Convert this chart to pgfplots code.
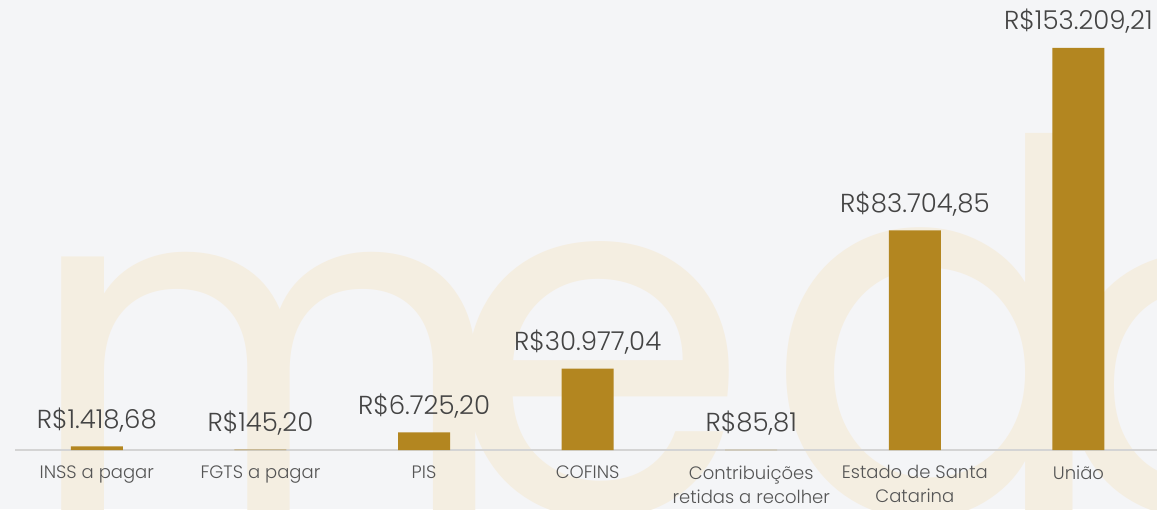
\documentclass[border=0pt]{standalone}
\usepackage{pgfplots}
\pgfplotsset{compat=1.18}
\usepackage{fontspec}
\setmainfont{Poppins}[UprightFont=* Light]
\newfontfamily\wmfont{Poppins}
\definecolor{bg}{HTML}{F4F5F7}
\definecolor{wm}{HTML}{F4EEE1}
\definecolor{barc}{HTML}{B38620}
\definecolor{linegray}{HTML}{D4D4D4}
\definecolor{valtxt}{HTML}{444444}
\definecolor{ticktxt}{HTML}{555555}
\begin{document}
\begin{tikzpicture}
\useasboundingbox (0,0) rectangle (1157pt,509pt);
\fill[bg] (0,0) rectangle (1157pt,509pt);
\begin{scope}
\clip (0,0) rectangle (1157pt,509pt);
\tikzset{wml/.style={anchor=base west, font=\wmfont\fontsize{470}{470}\selectfont, text=wm, inner sep=0pt}}
\node[wml] at (25pt,-5pt) {m};
\node[wml, font=\wmfont\fontsize{490}{490}\selectfont] at (446pt,-5pt) {e};
\node[wml, font=\wmfont\fontsize{515}{515}\selectfont] at (764pt,-5pt) {d};
\node[wml] at (1050pt,-5pt) {o};
\end{scope}
\begin{axis}[
  at={(15pt,59pt)}, anchor=south west,
  scale only axis, width=1142pt, height=450pt,
  xmin=-0.5, xmax=6.48, ymin=0, ymax=171500,
  hide y axis,
  axis x line*=bottom,
  x axis line style={-, draw=linegray, line width=1.5pt},
  xtick={0,1,2,3,4,5,6},
  xticklabels={INSS a pagar, FGTS a pagar, PIS, COFINS, {Contribuições\\retidas a recolher}, {Estado de Santa\\Catarina}, União},
  major tick length=0pt,
  xticklabel style={align=center, font=\fontsize{18}{24}\selectfont, text=ticktxt, yshift=-12pt},
  ybar, bar width=52pt,
  clip=false,
  point meta=explicit symbolic,
  nodes near coords,
  nodes near coords style={font=\fontsize{26}{28}\selectfont, text=valtxt, anchor=south, inner sep=0pt, yshift=14pt},
]
\addplot[fill=barc, draw=none] coordinates {
  (0,1418.68) [R\$1.418,68]
  (1,145.20) [R\$145,20]
  (2,6725.20) [R\$6.725,20]
  (3,30977.04) [R\$30.977,04]
  (4,85.81) [R\$85,81]
  (5,83704.85) [R\$83.704,85]
  (6,153209.21) [R\$153.209,21]
};
\end{axis}
\end{tikzpicture}
\end{document}
